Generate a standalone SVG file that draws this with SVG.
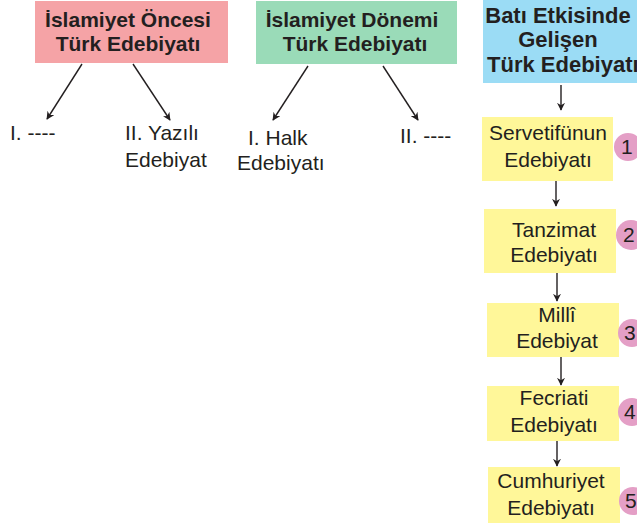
<svg xmlns="http://www.w3.org/2000/svg" width="637" height="525" viewBox="0 0 637 525">
<style>
.t{font-family:"Liberation Sans",Arial,sans-serif;font-size:21px;fill:#231f20}
.b{font-family:"Liberation Sans",Arial,sans-serif;font-size:21px;font-weight:bold;fill:#231f20}
.bb{font-size:22px}
.m{text-anchor:middle}
.c{stroke:#231f20;stroke-width:1.4;fill:none;marker-end:url(#ah)}
.y{fill:#fff799}
.n{fill:#e49fc6}
</style>
<defs>
<marker id="ah" viewBox="0 0 10 10" refX="9" refY="5" markerWidth="8" markerHeight="8" markerUnits="userSpaceOnUse" orient="auto">
<path d="M0,0 L10,5 L0,10 L3,5 Z" fill="#231f20"/>
</marker>
</defs>
<rect width="637" height="525" fill="#fff"/>
<g id="pre">
<rect x="35" y="1" width="193" height="62" fill="#f5a3a6"/>
<text class="b m" x="128" y="27">İslamiyet Öncesi</text>
<text class="b m" x="128" y="51">Türk Edebiyatı</text>
</g>
<g id="isl">
<rect x="256" y="1" width="201" height="63" fill="#9adbb8"/>
<text class="b m" x="352" y="27">İslamiyet Dönemi</text>
<text class="b m" x="355" y="51">Türk Edebiyatı</text>
</g>
<g id="bati">
<rect x="483" y="0" width="160" height="83" fill="#9bdcf5"/>
<text class="b bb m" x="558" y="23">Batı Etkisinde</text>
<text class="b bb m" x="558" y="47">Gelişen</text>
<text class="b bb" x="487" y="72">Türk Edebiyatı</text>
</g>
<g id="pre1"><text class="t" x="10" y="140">I. ----</text></g>
<g id="pre2"><text class="t" x="125" y="140">II. Yazılı</text><text class="t" x="125" y="167">Edebiyat</text></g>
<g id="isl1"><text class="t" x="248" y="145">I. Halk</text><text class="t" x="237" y="170">Edebiyatı</text></g>
<g id="isl2"><text class="t" x="400" y="143">II. ----</text></g>
<g id="s1">
<rect class="y" x="482" y="117" width="131" height="64"/>
<text class="t m" x="548" y="140">Servetifünun</text>
<text class="t m" x="548" y="167">Edebiyatı</text>
<circle class="n" cx="628" cy="147" r="14"/>
<text class="t" x="621" y="154">1</text>
</g>
<g id="s2">
<rect class="y" x="484" y="209" width="132" height="64"/>
<text class="t m" x="554" y="237">Tanzimat</text>
<text class="t m" x="554" y="262">Edebiyatı</text>
<circle class="n" cx="631" cy="235" r="15"/>
<text class="t" x="623" y="242">2</text>
</g>
<g id="s3">
<rect class="y" x="487" y="303" width="132" height="54"/>
<text class="t m" x="557" y="322">Millî</text>
<text class="t m" x="557" y="348">Edebiyat</text>
<circle class="n" cx="632" cy="333" r="14"/>
<text class="t" x="624" y="340">3</text>
</g>
<g id="s4">
<rect class="y" x="487" y="386" width="132" height="55"/>
<text class="t m" x="554" y="405">Fecriati</text>
<text class="t m" x="554" y="432">Edebiyatı</text>
<circle class="n" cx="632" cy="412" r="14"/>
<text class="t" x="624" y="419">4</text>
</g>
<g id="s5">
<rect class="y" x="488" y="467" width="132" height="56"/>
<text class="t m" x="551" y="488">Cumhuriyet</text>
<text class="t m" x="551" y="515">Edebiyatı</text>
<circle class="n" cx="633" cy="501" r="14"/>
<text class="t" x="625" y="508">5</text>
</g>
<g id="connectors">
<line class="c" x1="82" y1="64" x2="47" y2="119"/>
<line class="c" x1="133" y1="64" x2="170" y2="120"/>
<line class="c" x1="308" y1="66" x2="273" y2="120"/>
<line class="c" x1="383" y1="66" x2="418" y2="120"/>
<line class="c" x1="561" y1="85" x2="561" y2="110"/>
<line class="c" x1="556" y1="181" x2="556" y2="206"/>
<line class="c" x1="557" y1="273" x2="557" y2="301"/>
<line class="c" x1="561" y1="357" x2="561" y2="385"/>
<line class="c" x1="557" y1="441" x2="557" y2="466"/>
</g>
</svg>
